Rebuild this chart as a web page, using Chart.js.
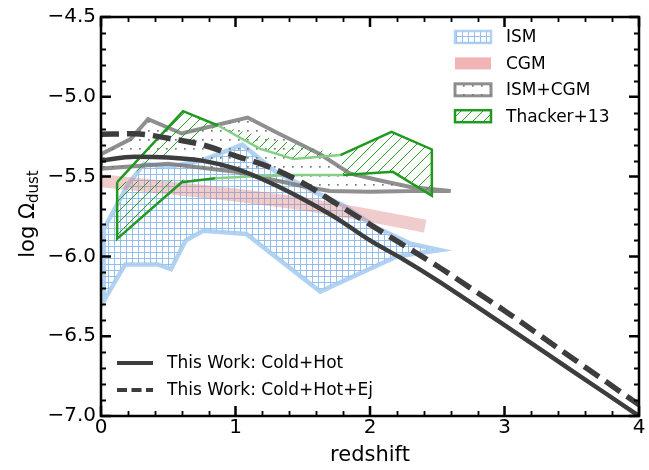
<!DOCTYPE html>
<html>
<head>
<meta charset="utf-8">
<script src="https://cdn.jsdelivr.net/npm/chart.js@4.4.1/dist/chart.umd.min.js"></script>
<style>
  html, body { margin: 0; padding: 0; background: #fff; }
  #wrap { width: 649px; height: 470px; }
</style>
</head>
<body>
<div id="wrap"><canvas id="dustChart" width="649" height="470"></canvas></div>
<script>
// model curves, log Omega_dust against redshift
const modelZ = [0, 0.25, 0.5, 0.75, 1.0, 1.25, 1.5, 1.75, 2.0, 2.25, 2.5, 2.75, 3.0, 3.5, 4.0]
const coldHot = [-5.40, -5.375, -5.38, -5.40, -5.45, -5.535, -5.64, -5.76, -5.90, -6.02, -6.15, -6.29, -6.43, -6.715, -7.0]
const coldHotEj = [-5.235, -5.232, -5.26, -5.30, -5.37, -5.44, -5.54, -5.67, -5.80, -5.93, -6.06, -6.20, -6.34, -6.635, -6.93]

// ISM region (upper and lower edges)
const ismUpperZ = [0.02, 0.2, 0.32, 0.5, 0.75, 1.05, 1.3, 1.55, 1.8, 2.05, 2.3, 2.52]
const ismUpper = [-5.83, -5.55, -5.42, -5.44, -5.40, -5.30, -5.47, -5.58, -5.68, -5.82, -5.92, -5.96]
const ismLowerZ = [0.02, 0.18, 0.42, 0.52, 0.63, 0.76, 1.08, 1.63, 2.2, 2.52]
const ismLower = [-6.28, -6.05, -6.05, -6.08, -5.90, -5.84, -5.86, -6.22, -6.0, -5.96]

// CGM band centre
const cgmZ = [0, 0.5, 1.0, 1.5, 2.0, 2.41]
const cgm = [-5.525, -5.57, -5.615, -5.67, -5.745, -5.81]

// ISM+CGM region
const totUpperZ = [0, 0.22, 0.35, 0.6, 0.845, 1.09, 1.32, 1.43, 1.63, 1.85, 2.05, 2.3, 2.6]
const totUpper = [-5.36, -5.265, -5.14, -5.23, -5.18, -5.13, -5.23, -5.275, -5.36, -5.48, -5.52, -5.565, -5.59]
const totLowerZ = [0, 0.5, 1.0, 1.5, 1.7, 2.0, 2.3, 2.6]
const totLower = [-5.45, -5.42, -5.47, -5.56, -5.59, -5.595, -5.59, -5.59]

// Thacker+13 region
const thkUpperZ = [0.12, 0.61, 0.87, 1.18, 1.43, 1.78, 2.16, 2.46]
const thkUpper = [-5.535, -5.09, -5.18, -5.325, -5.39, -5.365, -5.22, -5.33]
const thkLowerZ = [0.12, 0.6, 0.85, 1.1, 1.43, 1.8, 2.17, 2.46]
const thkLower = [-5.89, -5.535, -5.51, -5.50, -5.49, -5.49, -5.47, -5.62]

const xTicks = [0, 1, 2, 3, 4]
const yTicks = [-7.0, -6.5, -6.0, -5.5, -5.0, -4.5]

const FONT = 'DejaVu Sans'

const pts = (zs, vs) => zs.map((z, i) => ({ x: z, y: vs[i] }))

// closed outline: upper edge left->right, lower edge back right->left
const outline = (uz, uv, lz, lv) => {
  const up = pts(uz, uv)
  const lo = pts(lz, lv).reverse()
  return up.concat(lo, [up[0]])
}

function makePattern(kind) {
  const c = document.createElement('canvas')
  const g = c.getContext('2d')
  if (kind == 'grid') {
    c.width = 6; c.height = 6
    g.strokeStyle = 'rgba(140,185,235,0.9)'
    g.lineWidth = 1
    g.beginPath()
    g.moveTo(0.5, 0); g.lineTo(0.5, 6)
    g.moveTo(0, 0.5); g.lineTo(6, 0.5)
    g.stroke()
  } else if (kind == 'dots') {
    c.width = 9; c.height = 9
    g.fillStyle = '#7a7a7a'
    g.fillRect(4, 4, 1.7, 1.7)
  } else {
    const s = 11
    c.width = s; c.height = s
    g.strokeStyle = '#2a9f2a'
    g.lineWidth = 1
    g.beginPath()
    g.moveTo(0, s); g.lineTo(s, 0)
    g.moveTo(-2, 2); g.lineTo(2, -2)
    g.moveTo(s - 2, s + 2); g.lineTo(s + 2, s - 2)
    g.stroke()
  }
  return g.createPattern(c, 'repeat')
}

const gridFill = makePattern('grid')
const dotFill = makePattern('dots')
const hatchFill = makePattern('hatch')

const ismEdge = 'rgba(165,202,240,0.85)'
const cgmColor = 'rgba(215,120,120,0.38)'
const totEdge = 'rgba(115,115,115,0.8)'
const thkEdge = '#1f9a1f'
const thkEdgeLight = '#86cf86'
const lineColor = '#3d3d3d'

// inward ticks, frame, titles and the two legends
const decorPlugin = {
  id: 'decor',
  afterDraw(chart) {
    const { ctx, chartArea: a, scales } = chart
    const xs = scales.x, ys = scales.y
    ctx.save()
    ctx.strokeStyle = '#000'
    ctx.lineCap = 'butt'

    // minor ticks
    ctx.lineWidth = 1.8
    ctx.beginPath()
    for (let i = 0; i <= 20; i++) {
      if (i % 5 == 0) continue
      const px = Math.round(xs.getPixelForValue(i * 0.2)) + 0.5
      ctx.moveTo(px, a.bottom); ctx.lineTo(px, a.bottom - 5)
      ctx.moveTo(px, a.top); ctx.lineTo(px, a.top + 5)
    }
    for (let i = 0; i <= 25; i++) {
      if (i % 5 == 0) continue
      const py = Math.round(ys.getPixelForValue(-7 + i * 0.1)) + 0.5
      ctx.moveTo(a.left, py); ctx.lineTo(a.left + 5, py)
      ctx.moveTo(a.right, py); ctx.lineTo(a.right - 5, py)
    }
    ctx.stroke()

    // major ticks
    ctx.lineWidth = 2.5
    ctx.beginPath()
    xTicks.forEach(v => {
      const px = xs.getPixelForValue(v)
      ctx.moveTo(px, a.bottom); ctx.lineTo(px, a.bottom - 10)
      ctx.moveTo(px, a.top); ctx.lineTo(px, a.top + 10)
    })
    yTicks.forEach(v => {
      const py = ys.getPixelForValue(v)
      ctx.moveTo(a.left, py); ctx.lineTo(a.left + 10, py)
      ctx.moveTo(a.right, py); ctx.lineTo(a.right - 10, py)
    })
    ctx.stroke()

    // frame
    ctx.lineWidth = 2.5
    ctx.strokeRect(a.left, a.top, a.right - a.left, a.bottom - a.top)

    // axis titles
    ctx.fillStyle = '#000'
    ctx.textAlign = 'center'
    ctx.textBaseline = 'alphabetic'
    ctx.font = '21px "' + FONT + '"'
    ctx.fillText('redshift', (a.left + a.right) / 2, 461)

    ctx.save()
    ctx.translate(34, 214)
    ctx.rotate(-Math.PI / 2)
    ctx.textAlign = 'left'
    ctx.font = '21px "' + FONT + '"'
    const main = 'log \u03A9'
    const wMain = ctx.measureText(main).width
    ctx.font = '15px "' + FONT + '"'
    const wSub = ctx.measureText('dust').width
    const x0 = -(wMain + wSub) / 2
    ctx.font = '21px "' + FONT + '"'
    ctx.fillText(main, x0, 0)
    ctx.font = '15px "' + FONT + '"'
    ctx.fillText('dust', x0 + wMain, 4)
    ctx.restore()

    // upper right legend
    ctx.font = '17px "' + FONT + '"'
    ctx.textAlign = 'left'
    ctx.textBaseline = 'middle'
    const patches = [
      { label: 'ISM', fill: gridFill, edge: ismEdge, lw: 2.5 },
      { label: 'CGM', fill: 'rgba(235,150,150,0.7)', edge: null, lw: 0 },
      { label: 'ISM+CGM', fill: dotFill, edge: totEdge, lw: 3 },
      { label: 'Thacker+13', fill: hatchFill, edge: thkEdge, lw: 2.5 }
    ]
    patches.forEach((p, i) => {
      const cy = 37 + i * 26.4
      ctx.fillStyle = p.fill
      ctx.fillRect(455, cy - 6, 36, 12)
      if (p.edge) {
        ctx.strokeStyle = p.edge
        ctx.lineWidth = p.lw
        ctx.strokeRect(455, cy - 6, 36, 12)
      }
      ctx.fillStyle = '#000'
      ctx.fillText(p.label, 506, cy + 1)
    })

    // lower left legend
    ctx.strokeStyle = lineColor
    ctx.lineWidth = 4
    ctx.beginPath()
    ctx.moveTo(117, 363); ctx.lineTo(153, 363)
    ctx.stroke()
    ctx.setLineDash([10, 4.5])
    ctx.beginPath()
    ctx.moveTo(117, 390); ctx.lineTo(153, 390)
    ctx.stroke()
    ctx.setLineDash([])
    ctx.fillStyle = '#000'
    ctx.fillText('This Work: Cold+Hot', 167, 364)
    ctx.fillText('This Work: Cold+Hot+Ej', 167, 391)
    ctx.restore()
  }
}

// middle stretch of the Thacker outline is drawn lighter
const thkSegColor = c => {
  const a = c.p0.parsed.x, b = c.p1.parsed.x
  return a >= 0.85 && a <= 1.8 && b >= 0.85 && b <= 1.8 ? thkEdgeLight : thkEdge
}

new Chart(document.getElementById('dustChart'), {
  type: 'line',
  data: {
    datasets: [
      {
        label: 'This Work: Cold+Hot',
        data: pts(modelZ, coldHot),
        borderColor: lineColor, borderWidth: 4.5,
        cubicInterpolationMode: 'monotone',
        pointRadius: 0, fill: false, order: 0
      },
      {
        label: 'This Work: Cold+Hot+Ej',
        data: pts(modelZ, coldHotEj),
        borderColor: lineColor, borderWidth: 5.5,
        borderDash: [18, 8],
        cubicInterpolationMode: 'monotone',
        pointRadius: 0, fill: false, order: 1
      },
      {
        label: 'Thacker+13',
        data: outline(thkUpperZ, thkUpper, thkLowerZ, thkLower),
        borderColor: thkEdge, borderWidth: 2.5,
        segment: { borderColor: thkSegColor },
        backgroundColor: hatchFill, fill: 'shape',
        tension: 0, pointRadius: 0, order: 2
      },
      {
        label: 'ISM+CGM',
        data: outline(totUpperZ, totUpper, totLowerZ, totLower),
        borderColor: totEdge, borderWidth: 4,
        backgroundColor: dotFill, fill: 'shape',
        tension: 0, pointRadius: 0, order: 3
      },
      {
        label: 'CGM',
        data: pts(cgmZ, cgm),
        borderColor: cgmColor, borderWidth: 13,
        borderCapStyle: 'butt',
        tension: 0, pointRadius: 0, fill: false, order: 4
      },
      {
        label: 'ISM',
        data: outline(ismUpperZ, ismUpper, ismLowerZ, ismLower),
        borderColor: ismEdge, borderWidth: 4.5,
        backgroundColor: gridFill, fill: 'shape',
        tension: 0, pointRadius: 0, order: 5
      }
    ]
  },
  options: {
    responsive: false,
    animation: false,
    events: [],
    devicePixelRatio: 1,
    layout: { padding: { top: 16, right: 10, left: 0, bottom: 0 } },
    plugins: { legend: { display: false }, tooltip: { enabled: false } },
    scales: {
      x: {
        type: 'linear', min: 0, max: 4,
        afterFit: s => { s.height = 54 },
        afterBuildTicks: s => { s.ticks = xTicks.map(v => ({ value: v })) },
        ticks: {
          color: '#000', padding: 0,
          font: { family: FONT, size: 20 },
          callback: v => String(v)
        },
        grid: { display: false, drawTicks: false },
        border: { display: false }
      },
      y: {
        type: 'linear', min: -7, max: -4.5,
        afterFit: s => { s.width = 101 },
        afterBuildTicks: s => { s.ticks = yTicks.map(v => ({ value: v })) },
        ticks: {
          color: '#000', padding: 5,
          font: { family: FONT, size: 20 },
          callback: v => '\u2212' + Math.abs(v).toFixed(1)
        },
        grid: { display: false, drawTicks: false },
        border: { display: false }
      }
    }
  },
  plugins: [decorPlugin]
})
</script>
</body>
</html>
